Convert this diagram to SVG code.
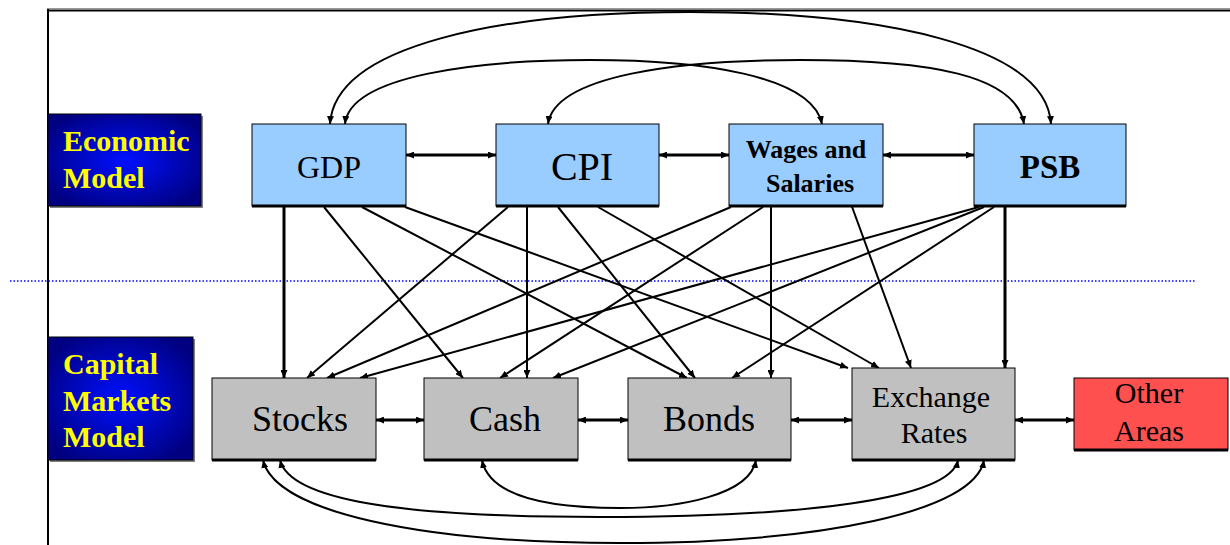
<svg xmlns="http://www.w3.org/2000/svg" width="1230" height="545" viewBox="0 0 1230 545">
<style>
.eco{fill:#99CCFF;stroke:#000;stroke-width:1}
.cap{fill:#C0C0C0;stroke:#000;stroke-width:1}
.oth{fill:#FF5050;stroke:#000;stroke-width:1}
.sh{stroke:#000;stroke-width:3}
.c{fill:none;stroke:#000;stroke-width:2}
.c3{fill:none;stroke:#000;stroke-width:3}
.e{marker-end:url(#ah)}
.b{marker-start:url(#ah);marker-end:url(#ah)}
</style>
<defs>
<marker id="ah" markerUnits="userSpaceOnUse" markerWidth="8" markerHeight="7" refX="8" refY="3.5" orient="auto-start-reverse">
<path d="M0,0 L8,3.5 L0,7 z" fill="#000"/>
</marker>
<radialGradient id="blue" cx="50%" cy="50%" r="60%">
<stop offset="0" stop-color="#0010FF"/>
<stop offset="1" stop-color="#000080"/>
</radialGradient>
</defs>
<rect width="1230" height="545" fill="#fff"/>
<g id="frame">
<line x1="47" y1="8.5" x2="1230" y2="8.5" stroke="#999" stroke-width="1"/>
<line x1="47" y1="10.5" x2="1230" y2="10.5" stroke="#000" stroke-width="2"/>
<line x1="48" y1="9" x2="48" y2="545" stroke="#000" stroke-width="2"/>
<line x1="10" y1="281" x2="1195" y2="281" stroke="#0000FF" stroke-width="1.5" stroke-dasharray="1.5,2"/>
</g>
<g id="economic-model" font-family="Liberation Serif, serif" font-weight="bold" font-size="30" fill="#FFFF00">
<rect x="50" y="116" width="153" height="92" fill="#808080"/>
<rect x="48" y="114" width="153" height="92" fill="url(#blue)" stroke="#000" stroke-width="1"/>
<text x="63" y="151">Economic</text>
<text x="63" y="188">Model</text>
</g>
<g id="capital-markets-model" font-family="Liberation Serif, serif" font-weight="bold" font-size="30" fill="#FFFF00">
<rect x="50" y="339" width="145" height="123" fill="#808080"/>
<rect x="48" y="337" width="145" height="123" fill="url(#blue)" stroke="#000" stroke-width="1"/>
<text x="63" y="374">Capital</text>
<text x="63" y="411">Markets</text>
<text x="63" y="447">Model</text>
</g>
<g id="connectors">
<path class="c b" d="M330,124 C335,45 500,12 690,12 C880,12 1046,45 1051,124"/>
<path class="c b" d="M345,124 C350,75 480,60 590,60 C700,60 812,75 822,124"/>
<path class="c b" d="M548,124 C555,75 680,60 800,60 C930,60 1016,75 1024,124"/>
<path class="c b" d="M280,460 C290,500 400,517 600,517 C800,517 950,500 958,460"/>
<path class="c b" d="M263,460 C275,512 420,543 620,543 C820,543 975,512 984,460"/>
<path class="c b" d="M482,460 C490,500 560,508 620,508 C680,508 750,495 756,460"/>
<line class="c3 b" x1="406" y1="155" x2="496" y2="155"/>
<line class="c3 b" x1="659" y1="155" x2="729" y2="155"/>
<line class="c3 b" x1="883" y1="155" x2="974" y2="155"/>
<line class="c3 b" x1="376" y1="420" x2="424" y2="420"/>
<line class="c3 b" x1="578" y1="420" x2="628" y2="420"/>
<line class="c3 b" x1="791" y1="420" x2="852" y2="420"/>
<line class="c3 b" x1="1015" y1="420" x2="1074" y2="420"/>
<line class="c3 e" x1="284" y1="207" x2="284" y2="378"/>
<line class="c e" x1="324" y1="207" x2="463" y2="378"/>
<line class="c e" x1="362" y1="207" x2="687" y2="378"/>
<line class="c e" x1="405" y1="207" x2="848" y2="368"/>
<line class="c e" x1="508" y1="207" x2="307" y2="378"/>
<line class="c e" x1="527" y1="207" x2="527" y2="378"/>
<line class="c e" x1="558" y1="207" x2="695" y2="378"/>
<line class="c e" x1="598" y1="207" x2="879" y2="368"/>
<line class="c e" x1="731" y1="207" x2="327" y2="378"/>
<line class="c e" x1="763" y1="207" x2="500" y2="378"/>
<line class="c e" x1="771" y1="207" x2="771" y2="378"/>
<line class="c e" x1="851" y1="204" x2="911" y2="368"/>
<line class="c e" x1="979" y1="207" x2="360" y2="378"/>
<line class="c e" x1="984" y1="207" x2="553" y2="378"/>
<line class="c e" x1="994" y1="207" x2="732" y2="378"/>
<line class="c3 e" x1="1005" y1="207" x2="1005" y2="368"/>
</g>
<g id="gdp" font-family="Liberation Serif, serif" text-anchor="middle">
<rect class="eco" x="252" y="124" width="154" height="82"/>
<line class="sh" x1="252" y1="206" x2="406" y2="206"/>
<text x="329" y="178" font-size="32">GDP</text>
</g>
<g id="cpi" font-family="Liberation Serif, serif" text-anchor="middle">
<rect class="eco" x="496" y="124" width="163" height="82"/>
<line class="sh" x1="496" y1="206" x2="659" y2="206"/>
<text x="582" y="180" font-size="40">CPI</text>
</g>
<g id="wages" font-family="Liberation Serif, serif" text-anchor="middle" font-weight="bold" font-size="26">
<rect class="eco" x="729" y="124" width="154" height="82"/>
<line class="sh" x1="729" y1="206" x2="883" y2="206"/>
<text x="806" y="158">Wages and</text>
<text x="810" y="192">Salaries</text>
</g>
<g id="psb" font-family="Liberation Serif, serif" text-anchor="middle" font-weight="bold">
<rect class="eco" x="974" y="124" width="152" height="82"/>
<line class="sh" x1="974" y1="206" x2="1126" y2="206"/>
<text x="1050" y="178" font-size="33">PSB</text>
</g>
<g id="stocks" font-family="Liberation Serif, serif" text-anchor="middle" font-size="36">
<rect class="cap" x="212" y="378" width="164" height="82"/>
<line class="sh" x1="212" y1="460" x2="376" y2="460"/>
<text x="300" y="431">Stocks</text>
</g>
<g id="cash" font-family="Liberation Serif, serif" text-anchor="middle" font-size="36">
<rect class="cap" x="424" y="378" width="154" height="82"/>
<line class="sh" x1="424" y1="460" x2="578" y2="460"/>
<text x="505" y="431">Cash</text>
</g>
<g id="bonds" font-family="Liberation Serif, serif" text-anchor="middle" font-size="36">
<rect class="cap" x="628" y="378" width="163" height="82"/>
<line class="sh" x1="628" y1="460" x2="791" y2="460"/>
<text x="709" y="431">Bonds</text>
</g>
<g id="exchange-rates" font-family="Liberation Serif, serif" text-anchor="middle" font-size="30">
<rect class="cap" x="852" y="368" width="163" height="92"/>
<line class="sh" x1="852" y1="460" x2="1015" y2="460"/>
<text x="931" y="407">Exchange</text>
<text x="934" y="443">Rates</text>
</g>
<g id="other-areas" font-family="Liberation Serif, serif" text-anchor="middle" font-size="30">
<rect class="oth" x="1074" y="378" width="154" height="72"/>
<line class="sh" x1="1074" y1="450" x2="1228" y2="450"/>
<text x="1149" y="403">Other</text>
<text x="1149" y="441">Areas</text>
</g>
</svg>
